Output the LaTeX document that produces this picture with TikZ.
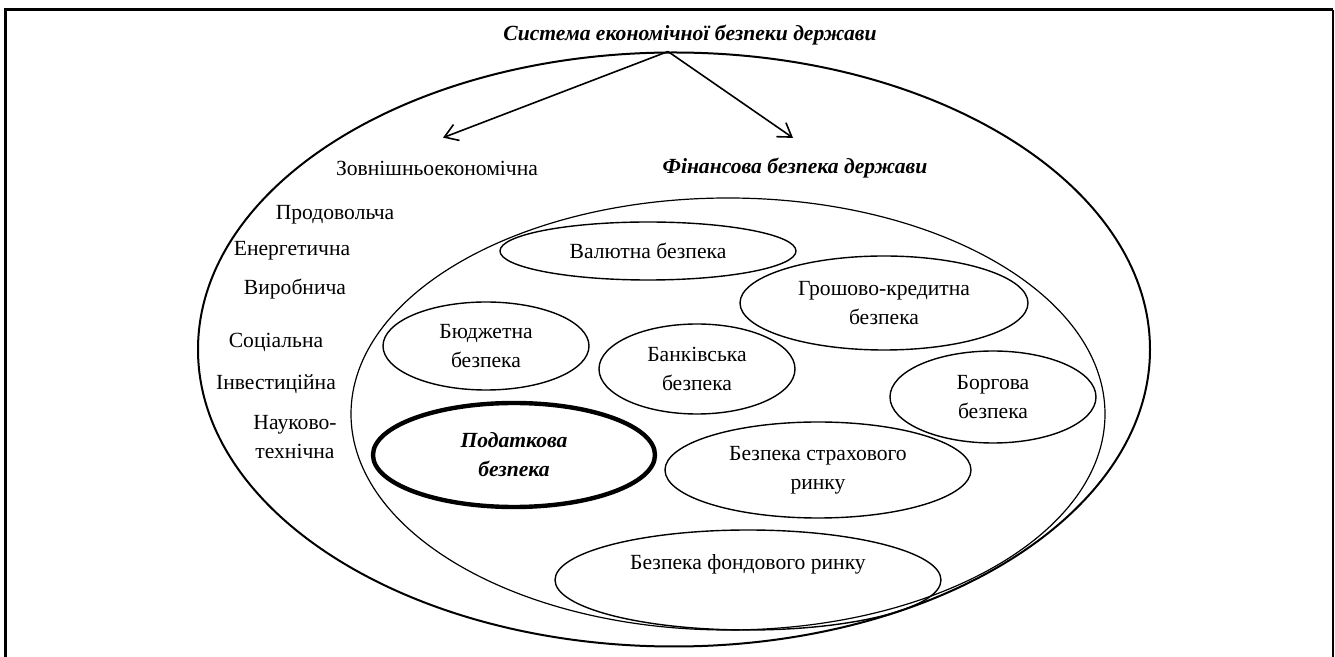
\documentclass[tikz,border=0pt]{standalone}
\usepackage{fontspec}
\setmainfont{Liberation Serif}
\usetikzlibrary{shapes.geometric, arrows.meta}
\begin{document}
\begin{tikzpicture}[x=0.5pt, y=-0.5pt, font=\fontsize{10.8}{14.5}\selectfont,
    sphere/.style = {draw, ellipse, inner sep=0pt, align=center, line width=0.7pt},
    kind/.style = {align=center},
    headline/.style = {font=\fontsize{10.8}{14.5}\selectfont\bfseries\itshape},
    link/.style = {-{Straight Barb[length=6.5pt, width=8.5pt]}, line width=0.8pt}]

      \useasboundingbox (0,0) rectangle (1335,657);

      % frame
      \draw[line width=1.5pt] (5,657) -- (5,10) -- (1333,10);
      \draw[line width=0.8pt] (1333,10) -- (1333,657);

      % outer and inner spheres
      \node[sphere, line width=1pt, minimum width=476pt, minimum height=297pt] (SYS) at (674,349.5) {};
      \node[sphere, line width=0.6pt, minimum width=377pt, minimum height=216pt] (FIN_AREA) at (728,414) {};

      \node[headline] (TITLE) at (690,35) {Система економічної безпеки держави};
      \node (EXT) at (437,168) {Зовнішньоекономічна};
      \node[headline] (FIN) at (795,168) {Фінансова безпека держави};

      \draw[link] ([xshift=-3pt]SYS.north) -- ([xshift=3pt, yshift=8pt]EXT.north);
      \draw[link] ([xshift=-3pt]SYS.north) -- ([xshift=-1pt, yshift=6.5pt]FIN.north);

      % other kinds of security
      \node (FOOD) at (335,215) {Продовольча};
      \node (ENER) at (292,251) {Енергетична};
      \node (PROD) at (295,289) {Виробнича};
      \node (SOC) at (276,342) {Соціальна};
      \node (INV) at (276,384) {Інвестиційна};
      \node[kind] (SCI) at (295,437) {\hfill Науково-\\технічна};

      % parts of financial security
      \node[sphere, minimum width=148pt, minimum height=29pt] (CUR) at (648,251) {Валютна безпека};
      \node[sphere, minimum width=103pt, minimum height=44pt] (BUD) at (486,346) {Бюджетна\\безпека};
      \node[sphere, minimum width=98pt, minimum height=45pt] (BANK) at (697,369) {Банківська\\безпека};
      \node[sphere, minimum width=144pt, minimum height=47pt] (MON) at (884,303) {Грошово-кредитна\\безпека};
      \node[sphere, minimum width=103pt, minimum height=46pt] (DEBT) at (993,397) {Боргова\\безпека};
      \node[sphere, minimum width=153pt, minimum height=48pt] (INS) at (818,470) {Безпека страхового\\ринку};
      \node[sphere, minimum width=193pt, minimum height=50pt, text depth=18pt] (STOCK) at (748,580) {Безпека фондового ринку};
      \node[sphere, headline, line width=2.2pt, minimum width=141pt, minimum height=52pt] (TAX) at (514,455) {Податкова\\безпека};

\end{tikzpicture}
\end{document}
